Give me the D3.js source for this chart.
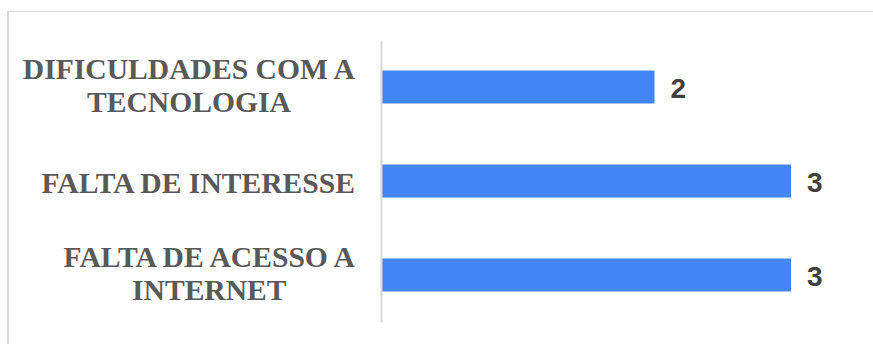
<!DOCTYPE html>
<html>
<head>
<meta charset="utf-8">
<script src="https://cdn.jsdelivr.net/npm/d3@7/dist/d3.min.js"></script>
<style>
  html, body { margin: 0; padding: 0; background: #fff; }
  svg { display: block; }
</style>
</head>
<body>
<svg id="chart" width="873" height="344"></svg>
<script>
// Reasons and how many answers gave each one
const categories = ["DIFICULDADES COM A TECNOLOGIA", "FALTA DE INTERESSE", "FALTA DE ACESSO A INTERNET"];
const values = [2, 3, 3];

const W = 873, H = 344;
const svg = d3.select("#chart");

// Chart area frame (light grey, open towards the right and bottom)
svg.append("line").attr("x1", 8).attr("x2", W).attr("y1", 11.5).attr("y2", 11.5)
  .attr("stroke", "#d9d9d9").attr("stroke-width", 1);
svg.append("line").attr("x1", 8).attr("x2", 8).attr("y1", 11).attr("y2", H)
  .attr("stroke", "#d9d9d9").attr("stroke-width", 2);

const plotLeft = 381.5, plotTop = 40, plotBottom = 322;

const x = d3.scaleLinear().domain([0, 3]).range([plotLeft, 791]);
const y = d3.scaleBand().domain(categories).range([plotTop, plotBottom])
  .paddingInner(0.649).paddingOuter(0.3245);

// Bars
svg.append("g").selectAll("rect").data(values).join("rect")
  .attr("x", x(0))
  .attr("y", (d, i) => y(categories[i]))
  .attr("width", d => x(d) - x(0))
  .attr("height", y.bandwidth())
  .attr("fill", "#4285f4");

// Category axis line
const axis = d3.axisLeft(y).tickSize(0).tickFormat("");
const axisG = svg.append("g").attr("transform", `translate(${plotLeft - 0.5},0)`).call(axis);
axisG.select(".domain").attr("stroke", "#d9d9d9").attr("stroke-width", 2);

// Category labels: wrapped, lines centred within a right-aligned block
const labelRight = 355, maxWidth = 345, lineH = 33.4;
const labelG = svg.append("g")
  .attr("font-family", "'Liberation Serif', 'Times New Roman', serif")
  .attr("font-weight", "bold").attr("font-size", 29.6).attr("fill", "#595959");

const probe = labelG.append("text").attr("visibility", "hidden");
const measure = s => { probe.text(s); return probe.node().getComputedTextLength(); };

categories.forEach(cat => {
  const words = cat.split(" ");
  const lines = [];
  let cur = "";
  words.forEach(w => {
    const t = cur ? cur + " " + w : w;
    if (cur && measure(t) > maxWidth) { lines.push(cur); cur = w; } else { cur = t; }
  });
  if (cur) lines.push(cur);
  const blockW = d3.max(lines, measure);
  const cx = labelRight - blockW / 2;
  const cy = y(cat) + y.bandwidth() / 2;
  const n = lines.length;
  const base = n === 1 ? 11.8 : 8.4;
  lines.forEach((ln, i) => {
    labelG.append("text")
      .attr("x", cx)
      .attr("y", cy + base + (i - (n - 1) / 2) * lineH)
      .attr("text-anchor", "middle")
      .text(ln);
  });
});
probe.remove();

// Value labels
svg.append("g")
  .attr("font-family", "'Liberation Sans', Arial, sans-serif")
  .attr("font-weight", "bold").attr("font-size", 28).attr("fill", "#404040")
  .selectAll("text").data(values).join("text")
  .attr("x", d => x(d) + 16)
  .attr("y", (d, i) => y(categories[i]) + y.bandwidth() / 2 + 10.5)
  .text(d => d);
</script>
</body>
</html>
